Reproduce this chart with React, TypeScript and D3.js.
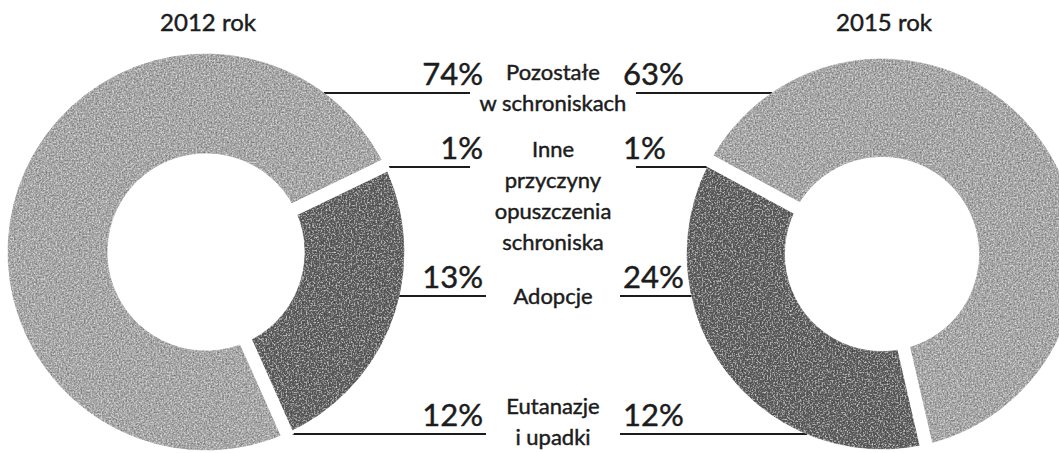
import * as d3 from "d3";

// categories, top to bottom in the middle column
const categories = [
  "Pozostałe w schroniskach",
  "Inne przyczyny opuszczenia schroniska",
  "Adopcje",
  "Eutanazje i upadki",
];
const labelLines = [
  ["Pozostałe", "w schroniskach"],
  ["Inne", "przyczyny", "opuszczenia", "schroniska"],
  ["Adopcje"],
  ["Eutanazje", "i upadki"],
];
const years = ["2012 rok", "2015 rok"];
const values2012 = [74, 1, 13, 12];
const values2015 = [63, 1, 24, 12];

const W = 1059;
const H = 453;
const fontFamily = "Lato, 'Open Sans', sans-serif";
const ink = "#1c1c1c";
const fills = ["#a6a6a6", "#ffffff", "#5f5f5f", "#5f5f5f"];

// label rows (leader line heights) and middle column
const rowY = [93, 167, 296, 434];
const rowTextDy = [-13, -10, 8, -20];
const rowGap = [83, 83, 67, 67];
const midX = 553;
const lineH = 31;

const donuts = [
  { year: years[0], values: values2012, cx: 206, cy: 252, r: 198, start: 156, dir: 1, side: 1 },
  { year: years[1], values: values2015, cx: 882, cy: 254, r: 195, start: 167, dir: -1, side: -1 },
];

const textStyle = {
  fontFamily,
  fill: ink,
  stroke: ink,
  strokeWidth: 0.45,
};

function Donut({ d }: { d: (typeof donuts)[number] }) {
  const a0 = (d.start * Math.PI) / 180;
  const pie = d3
    .pie<number>()
    .sort(null)
    .value((v) => v)
    .startAngle(a0)
    .endAngle(a0 + d.dir * 2 * Math.PI);
  const arcs = pie(d.values);
  const inner = d.r * 0.5;
  const arc = d3.arc<d3.PieArcDatum<number>>().innerRadius(inner).outerRadius(d.r);

  // white gaps: where the ring restarts and around the 1% slice
  const gapAngles = [arcs[0].startAngle, (arcs[1].startAngle + arcs[1].endAngle) / 2];

  return (
    <g>
      <text x={d.cx + 2} y={31} textAnchor="middle" fontSize={24} style={textStyle}>
        {d.year}
      </text>
      {rowY.map((y, i) => {
        const dy = y - d.cy;
        const x1 = d.cx + d.side * Math.sqrt(Math.max(0, d.r * d.r - dy * dy));
        const x2 = midX - d.side * rowGap[i];
        return (
          <g key={i}>
            <line x1={x1} y1={y} x2={x2} y2={y} stroke={ink} strokeWidth={2} />
            <text
              x={midX - d.side * 70}
              y={y - 8}
              textAnchor={d.side === 1 ? "end" : "start"}
              fontSize={31}
              style={textStyle}
            >
              {d.values[i]}%
            </text>
          </g>
        );
      })}
      <g transform={`translate(${d.cx},${d.cy})`}>
        <g filter="url(#grain)">
          {arcs.map((a, i) => (
            <path
              key={categories[i]}
              d={arc(a) ?? ""}
              fill={fills[i]}
              stroke={fills[i]}
              strokeWidth={0.8}
            />
          ))}
        </g>
        {gapAngles.map((ang, i) => {
          const p0 = d3.pointRadial(ang, inner - 4);
          const p1 = d3.pointRadial(ang, d.r + 4);
          return (
            <line
              key={i}
              x1={p0[0]}
              y1={p0[1]}
              x2={p1[0]}
              y2={p1[1]}
              stroke="#fff"
              strokeWidth={13}
            />
          );
        })}
      </g>
    </g>
  );
}

export default function App() {
  return (
    <svg
      width={W}
      height={H}
      style={{ position: "absolute", left: 0, top: 0, background: "#fff" }}
    >
      <defs>
        <filter id="grain" x="-10%" y="-10%" width="120%" height="120%">
          <feTurbulence type="fractalNoise" baseFrequency="0.6" numOctaves="2" seed="4" result="n" />
          <feColorMatrix
            in="n"
            type="matrix"
            values="1 0 0 0 0  1 0 0 0 0  1 0 0 0 0  0 0 0 0 1"
            result="g"
          />
          <feComponentTransfer in="g" result="c">
            <feFuncR type="linear" slope="0.8" intercept="0.1" />
            <feFuncG type="linear" slope="0.8" intercept="0.1" />
            <feFuncB type="linear" slope="0.8" intercept="0.1" />
          </feComponentTransfer>
          <feBlend in="SourceGraphic" in2="c" mode="overlay" result="b" />
          <feComposite in="b" in2="SourceGraphic" operator="in" />
        </filter>
      </defs>
      <rect width={W} height={H} fill="#fff" />
      {donuts.map((d) => (
        <Donut key={d.year} d={d} />
      ))}
      {labelLines.map((lines, i) => (
        <text key={categories[i]} textAnchor="middle" fontSize={22} style={textStyle}>
          {lines.map((t, j) => (
            <tspan key={j} x={midX} y={rowY[i] + rowTextDy[i] + j * lineH}>
              {t}
            </tspan>
          ))}
        </text>
      ))}
    </svg>
  );
}
